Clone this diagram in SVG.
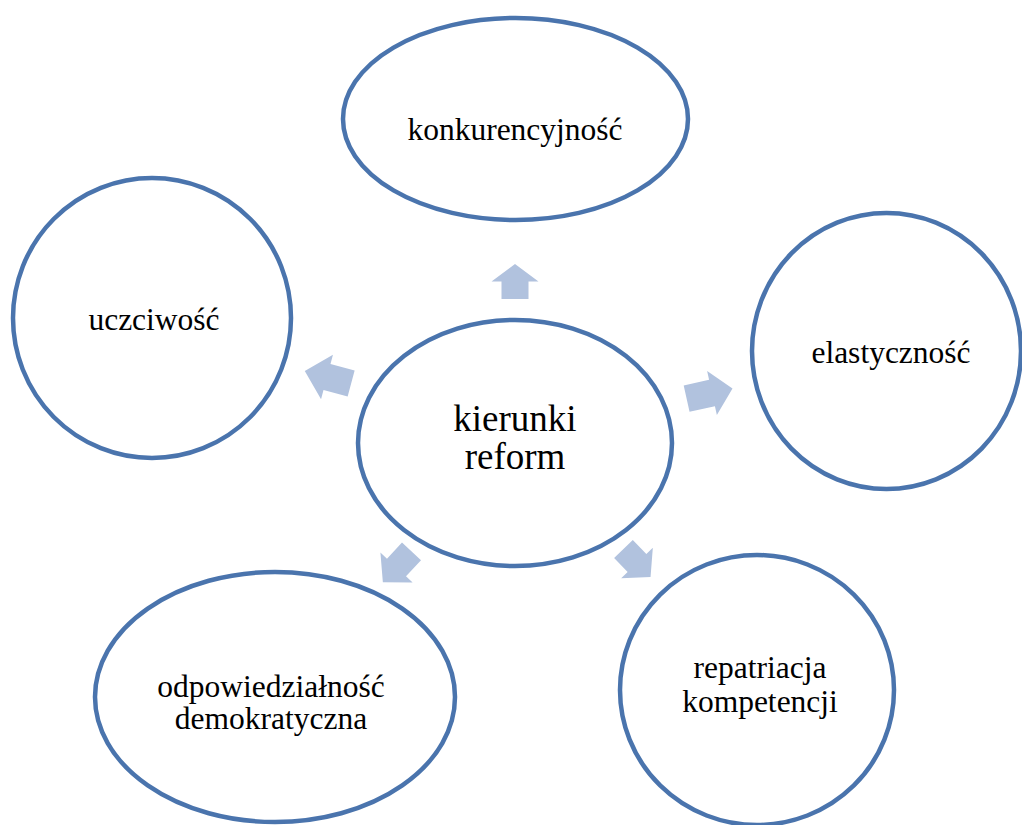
<svg xmlns="http://www.w3.org/2000/svg" width="1022" height="825" viewBox="0 0 1022 825">
<style>
.node{fill:#ffffff;stroke:#4a74ad;stroke-width:4.5}
.lbl{font-family:"Liberation Serif","Times New Roman",serif;font-size:31.5px;fill:#000000;text-anchor:middle}
.big{font-size:37px}
.arr{fill:#b1c2de;stroke:none}
</style>
<rect width="1022" height="825" fill="#ffffff"/>
<g id="connectors">
<path class="arr" transform="translate(515,281.5) rotate(-90)" d="M17.5,0 L0,-23.5 L0,-13.5 L-17.5,-13.5 L-17.5,13.5 L0,13.5 L0,23.5 Z"/>
<path class="arr" transform="translate(327,377) rotate(195)" d="M23,0 L0,-23 L0,-13.5 L-25,-13.5 L-25,13.5 L0,13.5 L0,23 Z"/>
<path class="arr" transform="translate(712,393) rotate(-12.5)" d="M21,0 L0,-22.5 L0,-13.5 L-26,-13.5 L-26,13.5 L0,13.5 L0,22.5 Z"/>
<path class="arr" transform="translate(396.5,567.5) rotate(133)" d="M20,0 L0,-22 L0,-13 L-22,-13 L-22,13 L0,13 L0,22 Z"/>
<path class="arr" transform="translate(637,563) rotate(46)" d="M19.5,0 L0,-22 L0,-13 L-19.5,-13 L-19.5,13 L0,13 L0,22 Z"/>
</g>
<g id="center">
<ellipse class="node" cx="515" cy="443" rx="157" ry="123"/>
<text class="lbl big" x="515" y="431">kierunki</text>
<text class="lbl big" x="515" y="469">reform</text>
</g>
<g id="konkurencyjnosc">
<ellipse class="node" cx="515.5" cy="119" rx="172.5" ry="101"/>
<text class="lbl" x="515" y="140">konkurencyjność</text>
</g>
<g id="elastycznosc">
<ellipse class="node" cx="886.5" cy="351" rx="134.5" ry="138"/>
<text class="lbl" x="891" y="363">elastyczność</text>
</g>
<g id="repatriacja">
<ellipse class="node" cx="757" cy="690" rx="137" ry="135"/>
<text class="lbl" x="760" y="678">repatriacja</text>
<text class="lbl" x="760" y="712">kompetencji</text>
</g>
<g id="odpowiedzialnosc">
<ellipse class="node" cx="275" cy="697" rx="180" ry="125"/>
<text class="lbl" x="271" y="697">odpowiedziałność</text>
<text class="lbl" x="271" y="729">demokratyczna</text>
</g>
<g id="uczciwosc">
<ellipse class="node" cx="152" cy="318" rx="139" ry="140"/>
<text class="lbl" x="154" y="330">uczciwość</text>
</g>
</svg>
